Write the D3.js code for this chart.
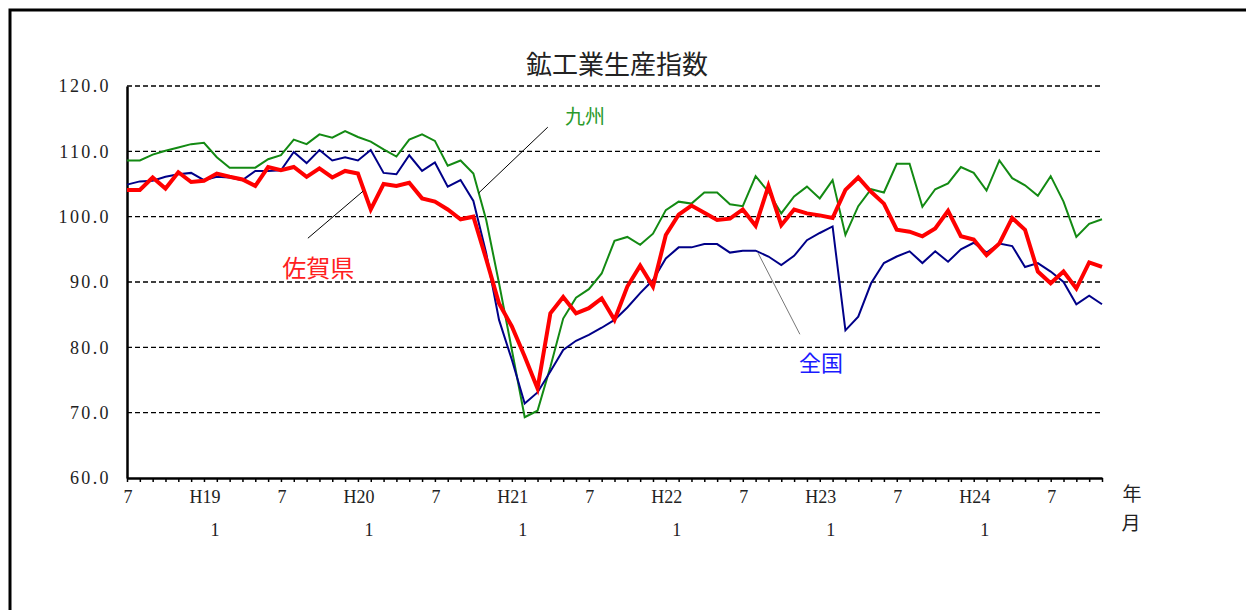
<!DOCTYPE html>
<html lang="ja">
<head>
<meta charset="utf-8">
<title>鉱工業生産指数</title>
<script src="https://cdn.jsdelivr.net/npm/d3@7"></script>
<style>
    body { margin: 0; background: #fff; }
    svg { display: block; }
    .num { font-family: "Liberation Serif", "DejaVu Serif", serif; }
    .jp { font-family: "Liberation Serif", "Noto Sans CJK JP", sans-serif; }
</style>
</head>
<body>
<div id="chart"></div>
<script>
// months H18.7 .. H24.11
const months = [
    "H18.7","H18.8","H18.9","H18.10","H18.11","H18.12",
    "H19.1","H19.2","H19.3","H19.4","H19.5","H19.6","H19.7","H19.8","H19.9","H19.10","H19.11","H19.12",
    "H20.1","H20.2","H20.3","H20.4","H20.5","H20.6","H20.7","H20.8","H20.9","H20.10","H20.11","H20.12",
    "H21.1","H21.2","H21.3","H21.4","H21.5","H21.6","H21.7","H21.8","H21.9","H21.10","H21.11","H21.12",
    "H22.1","H22.2","H22.3","H22.4","H22.5","H22.6","H22.7","H22.8","H22.9","H22.10","H22.11","H22.12",
    "H23.1","H23.2","H23.3","H23.4","H23.5","H23.6","H23.7","H23.8","H23.9","H23.10","H23.11","H23.12",
    "H24.1","H24.2","H24.3","H24.4","H24.5","H24.6","H24.7","H24.8","H24.9","H24.10","H24.11"
];

const kyushu = [
    108.6,108.6,109.5,110.1,110.6,111.1,111.3,109.1,107.5,107.5,107.5,108.8,109.4,111.8,111.1,112.6,
    112.1,113.1,112.2,111.5,110.3,109.2,111.8,112.6,111.6,107.8,108.6,106.6,
    99.5,89.8,79.6,69.3,70.3,77.0,84.4,87.6,88.9,91.3,96.3,96.9,95.7,
    97.4,101.0,102.3,102.0,103.7,103.7,101.9,101.6,106.2,103.8,100.5,103.1,104.6,102.8,
    105.6,97.2,101.6,104.2,103.7,108.1,108.1,101.5,104.2,105.1,107.6,106.7,104.0,108.6,
    105.9,104.8,103.2,106.2,102.3,96.9,98.9,99.6
];

const national = [
    104.9,105.4,105.5,106.1,106.5,106.7,105.6,106.1,106.0,105.6,107.0,107.0,107.1,109.9,108.2,110.2,
    108.6,109.1,108.6,110.2,106.7,106.5,109.4,107.0,108.3,104.6,105.6,102.4,
    94.4,84.2,78.1,71.4,73.1,76.3,79.6,81.0,81.9,83.0,84.2,86.1,88.3,
    90.3,93.6,95.3,95.3,95.8,95.8,94.5,94.8,94.8,93.9,92.6,94.0,96.4,97.5,
    98.5,82.6,84.7,89.8,92.9,93.9,94.7,92.9,94.7,93.1,95.0,96.0,94.5,95.9,
    95.5,92.3,92.9,91.6,90.0,86.6,87.9,86.6
];

const saga = [
    104.1,104.1,106.0,104.3,106.8,105.3,105.5,106.6,106.1,105.7,104.7,107.6,107.1,107.6,106.1,107.4,
    106.0,107.0,106.6,101.1,105.0,104.7,105.2,102.8,102.3,101.1,99.6,100.0,
    93.5,86.7,83.2,78.6,73.7,85.2,87.7,85.2,86.0,87.5,84.2,89.3,92.5,
    89.3,97.2,100.3,101.7,100.6,99.5,99.7,101.1,98.6,104.7,98.7,101.1,100.5,100.2,
    99.8,104.1,106.0,103.8,102.0,98.0,97.7,97.0,98.2,100.9,97.0,96.5,94.1,95.9,
    99.8,98.0,91.6,89.8,91.6,89.0,93.0,92.3
];

// x tick labels (index into months)
const labelIdx = [0, 6, 12, 18, 24, 30, 36, 42, 48, 54, 60, 66, 72];
const labelTop = ["7","H19","7","H20","7","H21","7","H22","7","H23","7","H24","7"];
const labelBottom = ["","1","","1","","1","","1","","1","","1",""];
const yTicks = [60, 70, 80, 90, 100, 110, 120];

const width = 1246, height = 610;
const plot = { left: 127, right: 1102, top: 86, bottom: 478 };

const svg = d3.select("#chart").append("svg")
    .attr("width", width)
    .attr("height", height);

// outer frame (top + left edges only are visible)
svg.append("path")
    .attr("d", `M10,${height} L10,10 L${width},10`)
    .attr("fill", "none")
    .attr("stroke", "#000")
    .attr("stroke-width", 3);

const x = d3.scaleLinear()
    .domain([0, months.length - 1])
    .range([plot.left, plot.right]);

const y = d3.scaleLinear()
    .domain([60, 120])
    .range([plot.bottom, plot.top]);

// dashed grid lines
svg.append("g")
    .selectAll("line")
    .data(yTicks.filter(d => d > 60))
    .join("line")
    .attr("x1", plot.left)
    .attr("x2", plot.right)
    .attr("y1", d => y(d))
    .attr("y2", d => y(d))
    .attr("stroke", "#000")
    .attr("stroke-width", 1.3)
    .attr("stroke-dasharray", "5,3");

// y axis
const yAxis = d3.axisLeft(y)
    .tickValues(yTicks)
    .tickFormat(d3.format(".1f"))
    .tickSize(0)
    .tickPadding(16);

const yAxisGroup = svg.append("g")
    .attr("transform", `translate(${plot.left},0)`)
    .call(yAxis);
yAxisGroup.select(".domain").attr("stroke", "#000").attr("stroke-width", 2.5);
yAxisGroup.selectAll("text")
    .attr("class", "num")
    .attr("fill", "#222")
    .style("font-size", "18px")
    .style("letter-spacing", "2.4px");

// x axis, one tick per month
const xAxis = d3.axisBottom(x)
    .tickValues(d3.range(months.length))
    .tickFormat("")
    .tickSize(4)
    .tickSizeOuter(0);

const xAxisGroup = svg.append("g")
    .attr("transform", `translate(0,${plot.bottom})`)
    .call(xAxis);
xAxisGroup.select(".domain").attr("stroke", "#000").attr("stroke-width", 2.5);
xAxisGroup.selectAll(".tick line").attr("stroke", "#000").attr("stroke-width", 1.5);

const xLabels = svg.append("g").attr("class", "num").attr("fill", "#222").style("font-size", "18px");
xLabels.selectAll(".top")
    .data(labelIdx)
    .join("text")
    .attr("class", "top")
    .attr("x", d => x(d) + 1)
    .attr("y", 503)
    .attr("text-anchor", "middle")
    .text((d, i) => labelTop[i]);

xLabels.selectAll(".bottom")
    .data(labelIdx)
    .join("text")
    .attr("class", "bottom")
    .attr("x", d => x(d) + 11)
    .attr("y", 536)
    .attr("text-anchor", "middle")
    .text((d, i) => labelBottom[i]);

const unit = svg.append("g").attr("class", "jp").attr("fill", "#222").style("font-size", "19px");
unit.append("text").attr("x", 1132).attr("y", 501).attr("text-anchor", "middle").text("年");
unit.append("text").attr("x", 1131).attr("y", 530).attr("text-anchor", "middle").text("月");

// series lines
const line = d3.line()
    .x((d, i) => x(i))
    .y(d => y(d))
    .curve(d3.curveLinear);

const series = [
    { name: "九州", data: kyushu, color: "#138a13", w: 2 },
    { name: "全国", data: national, color: "#000088", w: 2 },
    { name: "佐賀県", data: saga, color: "#ff0000", w: 4 }
];

svg.append("g")
    .selectAll("path")
    .data(series)
    .join("path")
    .attr("fill", "none")
    .attr("stroke", d => d.color)
    .attr("stroke-width", d => d.w)
    .attr("stroke-linejoin", "miter")
    .attr("d", d => line(d.data));

// leader lines and series labels (in data coordinates)
const notes = [
    { text: "九州", color: "#2a9a2a", size: 20, tx: 35.7, ty: 115.3, from: [27.4, 103.6], to: [32.8, 113.7], lc: "#000" },
    { text: "佐賀県", color: "#ff2020", size: 24, tx: 14.9, ty: 92.1, from: [18.4, 103.9], to: [14.1, 96.7], lc: "#000" },
    { text: "全国", color: "#1a1aff", size: 22, tx: 54.1, ty: 77.6, from: [49.2, 94.4], to: [52.45, 82.0], lc: "#777" }
];

const noteGroup = svg.append("g");
noteGroup.selectAll("line")
    .data(notes)
    .join("line")
    .attr("x1", d => x(d.from[0]))
    .attr("y1", d => y(d.from[1]))
    .attr("x2", d => x(d.to[0]))
    .attr("y2", d => y(d.to[1]))
    .attr("stroke", d => d.lc)
    .attr("stroke-width", 1);

noteGroup.selectAll("text")
    .data(notes)
    .join("text")
    .attr("class", "jp")
    .attr("x", d => x(d.tx))
    .attr("y", d => y(d.ty))
    .attr("dy", "0.35em")
    .attr("text-anchor", "middle")
    .attr("fill", d => d.color)
    .style("font-size", d => d.size + "px")
    .text(d => d.text);

// title
svg.append("text")
    .attr("class", "jp")
    .attr("x", 617)
    .attr("y", 65)
    .attr("dy", "0.35em")
    .attr("text-anchor", "middle")
    .attr("fill", "#222")
    .style("font-size", "26px")
    .text("鉱工業生産指数");
</script>
</body>
</html>
